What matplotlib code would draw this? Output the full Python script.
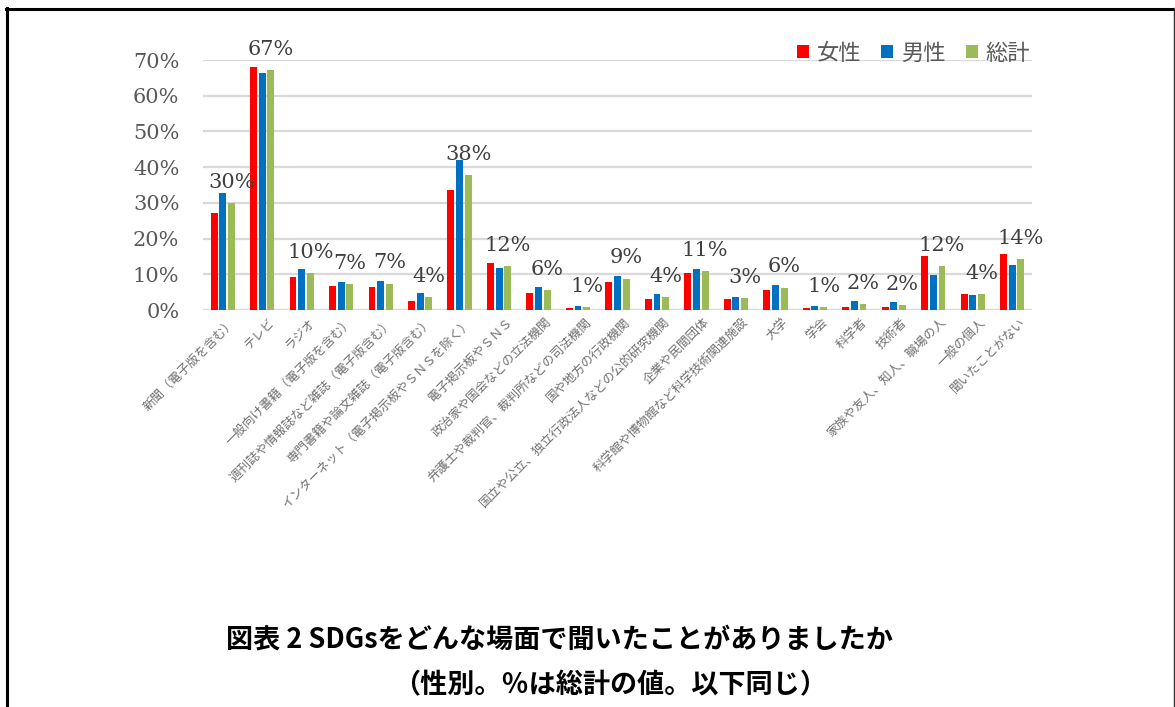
import matplotlib
matplotlib.use("Agg")
import matplotlib.pyplot as plt
import matplotlib.transforms as mtransforms
import numpy as np
from matplotlib.patches import Patch
from matplotlib.lines import Line2D

categories = [
    "新聞（電子版を含む）", "テレビ", "ラジオ", "一般向け書籍（電子版を含む）",
    "週刊誌や情報誌など雑誌（電子版含む）", "専門書籍や論文雑誌（電子版含む）",
    "インターネット（電子掲示板やＳＮＳを除く）", "電子掲示板やＳＮＳ",
    "政治家や国会などの立法機関", "弁護士や裁判官、裁判所などの司法機関",
    "国や地方の行政機関", "国立や公立、独立行政法人などの公的研究機関",
    "企業や民間団体", "科学館や博物館など科学技術関連施設", "大学", "学会",
    "科学者", "技術者", "家族や友人、知人、職場の人", "一般の個人", "聞いたことがない",
]
female = [27.1, 68.0, 9.2, 6.7, 6.5, 2.5, 33.6, 13.1, 4.7, 0.6, 7.9, 3.1,
          10.4, 3.1, 5.5, 0.6, 0.8, 0.8, 15.0, 4.6, 15.7]
male = [32.7, 66.5, 11.4, 7.9, 8.1, 4.9, 42.1, 11.7, 6.4, 1.1, 9.5, 4.5,
        11.6, 3.6, 7.0, 1.2, 2.5, 2.2, 9.8, 4.2, 12.7]
total = [29.9, 67.2, 10.3, 7.3, 7.4, 3.6, 37.9, 12.4, 5.5, 0.8, 8.8, 3.7,
         10.9, 3.4, 6.3, 0.9, 1.7, 1.5, 12.4, 4.4, 14.2]
total_labels = ["30%", "67%", "10%", "7%", "7%", "4%", "38%", "12%", "6%", "1%",
                "9%", "4%", "11%", "3%", "6%", "1%", "2%", "2%", "12%", "4%", "14%"]
series_names = ["女性", "男性", "総計"]
colors = ["#FF0000", "#0070C0", "#9BBB59"]
yticks = [0, 10, 20, 30, 40, 50, 60, 70]

cjk = ["Noto Sans CJK JP", "DejaVu Sans"]
serif = ["DejaVu Serif"]

fig = plt.figure(figsize=(11.75, 7.07), dpi=100)
ax = fig.add_axes([203 / 1175, 1 - 310 / 707, (1032 - 203) / 1175, 250 / 707])

x = np.arange(len(categories))
off = 0.22
w = 0.175
for i, (vals, c) in enumerate(zip([female, male, total], colors)):
    ax.bar(x + (i - 1) * off, vals, width=w, color=c, zorder=3)

for xi, v, lab in zip(x, total, total_labels):
    ax.annotate(lab, (xi + off, v), xytext=(0, 8), textcoords="offset points",
                ha="center", va="bottom", fontsize=15, family=serif,
                color="#404040", annotation_clip=False)

ax.set_xlim(-0.5, len(categories) - 0.5)
ax.set_ylim(0, 70)
ax.set_yticks(yticks)
ax.set_yticklabels([f"{t}%" for t in yticks], family=serif, fontsize=15, color="#595959")
ax.yaxis.grid(True, color="#D9D9D9", linewidth=1.6, zorder=0)
ax.set_axisbelow(True)
for s in ax.spines.values():
    s.set_visible(False)
ax.tick_params(axis="y", length=0, pad=17)
ax.tick_params(axis="x", length=0, pad=4)
ax.axhline(0, color="#D9D9D9", linewidth=1.6, zorder=2)

ax.set_xticks(x)
ax.set_xticklabels(categories, rotation=45, ha="right", va="top",
                   rotation_mode="anchor", family=cjk, fontsize=9, color="#707070")
shift = mtransforms.ScaledTranslation(4.5 / 72, 0, fig.dpi_scale_trans)
for t in ax.get_xticklabels():
    t.set_transform(t.get_transform() + shift)

handles = [Patch(facecolor=c, edgecolor="none") for c in colors]
leg = ax.legend(handles, series_names, ncol=3, loc="center right",
                bbox_to_anchor=(1030 / 1175, 1 - 53 / 707), bbox_transform=fig.transFigure,
                frameon=False, prop={"family": cjk, "size": 16},
                handlelength=0.55, handleheight=0.55, handletextpad=0.35,
                columnspacing=0.9, borderaxespad=0, borderpad=0)
for t in leg.get_texts():
    t.set_color("#595959")

fig.text(560 / 1175, 1 - 640 / 707, "図表 2 SDGsをどんな場面で聞いたことがありましたか",
         ha="center", va="center", family=cjk, fontsize=19.5, fontweight="bold", color="black")
fig.text(610 / 1175, 1 - 685 / 707, "（性別。％は総計の値。以下同じ）",
         ha="center", va="center", family=cjk, fontsize=19.5, fontweight="bold", color="black")

fig.add_artist(Line2D([6 / 1175, 1174.5 / 1175], [1 - 8.5 / 707, 1 - 8.5 / 707],
                      transform=fig.transFigure, color="black", linewidth=2.2))
fig.add_artist(Line2D([6.5 / 1175, 6.5 / 1175], [1 - 8 / 707, 0],
                      transform=fig.transFigure, color="black", linewidth=2.2))
fig.add_artist(Line2D([1174 / 1175, 1174 / 1175], [1 - 8 / 707, 0],
                      transform=fig.transFigure, color="#333333", linewidth=1.0))

fig.savefig("out.png", dpi=100)
